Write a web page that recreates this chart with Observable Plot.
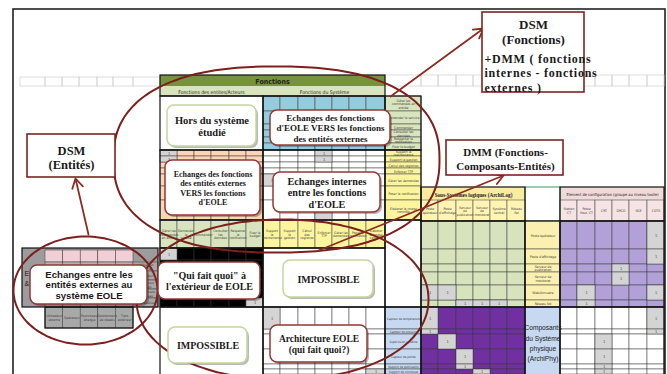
<!DOCTYPE html>
<html><head><meta charset="utf-8">
<script src="https://cdn.jsdelivr.net/npm/d3@7"></script>
<script src="https://cdn.jsdelivr.net/npm/@observablehq/plot@0.6"></script>
<style>html,body{margin:0;padding:0;background:#fff;overflow:hidden}</style>
</head><body><div id="chart"></div>
<script>
// ---------- texts (content) ----------
const funcEnt = ["Gérer les commandes en entrée", "Demander le service", "Commander", "Consulter les données", "Respecter la notification", "Fixer le budget"];
const funcSys = ["Support la maintenance", "Support la gestion", "Calcul des registres", "Enforcer TTP", "Gérer les demandes", "Poser la notification", "Elaborer la image contrôle"];
const archiLogCols = ["Poste opérateur", "Poste d'affichage", "Serveur de publication", "Serveur de monitorat", "Système central", "Réseau Sol"];
const archiLogRows = ["Poste opérateur", "Poste d'affichage", "Serveur de publication", "Serveur de monitorat", "Web/Annuaire", "Réseau Sol"];
const configCols = ["Station CT", "Poste Sout. CT", "CRT", "DRCO", "SGE", "COTS"];
const archiPhyRows = ["Capteur de température", "Capteur de pression", "Supervision système", "Capteur de pointe", "Support de publication", "Support de monitorat"];
const entites = ["Utilisateur externe", "Opérateur", "Fournisseur énergie", "Gestionnaire de réseau", "Tiers extérieur"];
const headerTexts = ["Fonctions", "Fonctions des entites/Acteurs", "Fonctions du Système", "Sous-Systèmes logiques (ArchiLog)", "Element de configuration (groupe au niveau toolie)", "Composants\ndu Système\nphysique\n(ArchiPhy)", "Entités\n& Acteurs"];
const zoneLabels = [
  "Hors du système\nétudié",
  "Echanges des fonctions\nd'EOLE VERS les fonctions\ndes entités externes",
  "Echanges des fonctions\ndes entités externes\nVERS les fonctions\nd'EOLE",
  "Echanges internes\nentre les fonctions\nd'EOLE",
  "\"Qui fait quoi\" à\nl'extérieur de EOLE",
  "IMPOSSIBLE",
  "IMPOSSIBLE",
  "Architecture EOLE\n(qui fait quoi?)",
  "Echanges entre les\nentités externes au\nsystème EOLE"
];
const calloutTitles = ["DSM\n(Entités)", "DSM\n(Fonctions)", "DMM (Fonctions-\nComposants-Entités)"];
const calloutNote = "+DMM ( fonctions\ninternes - fonctions\nexternes )";

// ---------- matrix marks ("1" cells: [row, col]) ----------
const sysEntOnes = [[0,0],[1,0]];
const sysSysOnes = [[0,3],[1,3],[4,0],[6,3]];
const quiOnes = [[0,0],[5,5]];
const phySysOnes = [[0,0],[5,6]];
const logLogOnes = [[4,0],[4,1],[5,2],[5,3],[5,4]];
const logCfgOnes = [[0,5],[1,5],[2,3],[3,3],[4,1],[4,5],[5,1]];
const phyLogOnes = [[0,0],[1,0],[2,1],[3,2],[4,2],[5,3]];
const phyCfgOnes = [[0,5],[1,5],[2,2],[3,2],[4,2],[5,2]];

// ---------- layout (sheet geometry, px) ----------
const colsEnt = [160,177,194,211,229,246,263];
const colsSys = [263,280,298,315,332,349,366,385];
const colLbl1 = [385,421];
const colsLog = [421,438,456,473,490,507,525];
const colLbl2 = [525,560];
const colsCfg = [560,577,595,612,629,647,664];
const rowsEnt = [96,111,124,130,137,143,150];
const rowsSys = [150,156,162,168,174,186,200,220];
const rowColLbl = [220,248];
const rowsQui = [248,260,270,280,290,298,307];
const rowLogHdr = [200,221];
const rowsLog = [221,249,264,272,285,300,307];
const rowsPhy = [307,329,334,349,364,369,374];
const colsEntDsm = [45,62.6,80.2,97.8,115.4,133];
const rowsEntDsm = [262,271,280,289,298,307];
const sheetLeftCols = [20,45,62,79,97,113,133,160];
const sheetRightCols = [385,421,438,456,473,490,507,525,560,577,595,612,629,647,664];

const W = 667, H = 374;
const serif = "Liberation Serif, Times New Roman, serif";
const sans = "Liberation Sans, Arial, sans-serif";
const narrow = "DejaVu Sans Condensed, Liberation Sans, sans-serif";

function grid(xs, ys, fill) {
  const out = [];
  for (let r = 0; r < ys.length - 1; r++)
    for (let c = 0; c < xs.length - 1; c++)
      out.push({x1: xs[c], x2: xs[c+1], y1: ys[r], y2: ys[r+1], fill, r, c});
  return out;
}
function pick(cells, ones) { return cells.filter(d => ones.some(([r, c]) => r === d.r && c === d.c)); }

const plainBlocks = [
  {x1:22,y1:248,x2:158,y2:307,fill:"#9c9c9c"},
  {x1:160,y1:75,x2:385,y2:86,fill:"#76923c"},
  {x1:160,y1:86,x2:263,y2:96,fill:"#d7e4bd"},
  {x1:263,y1:86,x2:385,y2:96,fill:"#d7e4bd"},
  {x1:160,y1:96,x2:263,y2:150,fill:"#ffffff"},
  {x1:263,y1:248,x2:385,y2:307,fill:"#ffffff"},
  {x1:160,y1:307,x2:263,y2:380,fill:"#ffffff"},
  {x1:385,y1:220,x2:421,y2:307,fill:"#ffffff"},
  {x1:421,y1:187,x2:525,y2:200,fill:"#f9eca0"},
  {x1:560,y1:187,x2:664,y2:200,fill:"#f0d9d9"},
  {x1:525,y1:307,x2:560,y2:380,fill:"#c6d9f0"}
];

const cBlue = grid(colsSys, rowsEnt, "#93cddd");
const cOrange = grid(colsEnt, rowsSys, "#fcd5b4");
const cSysSys = grid(colsSys, rowsSys, "#ffffff");
const cLblEnt = grid(colLbl1, rowsEnt, "#d7e4bd");
const cLblSys = grid(colLbl1, rowsSys, "#fcf59d");
const cColEnt = grid(colsEnt, rowColLbl, "#d7e4bd");
const cColSys = grid(colsSys, rowColLbl, "#fcf59d");
const cQui = grid(colsEnt, rowsQui, "#000000");
const cSysPhy = grid(colsSys, rowsPhy, "#ffffff");
const cLblPhy = grid(colLbl1, rowsPhy, "#c6d9f0");
const cLogPhy = grid(colsLog, rowsPhy, "#7030a0");
const cCfgPhy = grid(colsCfg, rowsPhy, "#ffffff");
const cLogHdr = grid(colsLog, rowLogHdr, "#fff4b3");
const cCfgHdr = grid(colsCfg, rowLogHdr, "#f6e4e4");
const cLogLog = grid(colsLog, rowsLog, "#d6e3bc");
const cLblLog = grid(colLbl2, rowsLog, "#fbf0b0");
const cCfgLog = grid(colsCfg, rowsLog, "#b2a1d9");
const cEntHdr = grid(colsEntDsm, [250,262], "#f2cfd6");
const cEntIn = grid(colsEntDsm, rowsEntDsm, "#b4b4b4");
const cEntRow = grid([133,158], rowsEntDsm, "#a8a8a8");
const cEntCol = grid(colsEntDsm, [307,328], "#a8a8a8");

const allCells = [cBlue,cOrange,cSysSys,cLblEnt,cLblSys,cColEnt,cColSys,cQui,cSysPhy,cLblPhy,cLogPhy,cCfgPhy,cLogHdr,cCfgHdr,cLogLog,cLblLog,cCfgLog,cEntHdr,cEntIn,cEntRow,cEntCol].flat();
const ones = [
  pick(cOrange, sysEntOnes), pick(cSysSys, sysSysOnes), pick(cQui, quiOnes), pick(cSysPhy, phySysOnes),
  pick(cLogLog, logLogOnes), pick(cCfgLog, logCfgOnes), pick(cLogPhy, phyLogOnes), pick(cCfgPhy, phyCfgOnes)
].flat();

const outlines = [[160,75,385,96],[160,96,263,150],[263,96,385,150],[160,150,263,220],[263,150,385,220],[160,220,263,248],[263,220,385,248],[160,248,263,307],[263,248,385,307],[160,307,263,380],[263,307,385,380],[385,96,421,150],[385,150,421,220],[385,220,421,307],[385,307,421,380],[421,187,525,221],[560,187,664,221],[421,221,525,307],[525,221,560,307],[560,221,664,307],[421,307,525,380],[525,307,560,380],[560,307,664,380],[22,248,158,307],[45,307,133,328]]
  .map(([x1,y1,x2,y2]) => ({x1,y1,x2,y2}));

const headerPos = [[272,80.5,7,"bold",narrow],[211,91,5,"normal",narrow],[324,91,5,"normal",narrow],[473,193.5,5.2,"bold",serif],[612,193.5,4,"normal",narrow],[542.5,342,6.6,"normal",sans],[24,277,7,"normal",sans]];

const zoneBoxes = [[167,105,256,146],[270,110,390,145],[165,160,260,215],[273,172,380,212],[158,262,260,299],[283,260,373,297],[168,327,247,363],[270,325,367,362],[30,265,147,304]];
const zoneStyle = [
  {stroke:"#c3d69b", size:10.5, lh:1.15, font:serif},
  {stroke:"#953735", size:9, lh:1.17, font:serif},
  {stroke:"#953735", size:8, lh:1.15, font:serif},
  {stroke:"#953735", size:10.2, lh:1.15, font:serif},
  {stroke:"#953735", size:10, lh:1.15, font:serif},
  {stroke:"#c3d69b", size:10, lh:1.1, font:serif},
  {stroke:"#c3d69b", size:10, lh:1.1, font:serif},
  {stroke:"#953735", size:9.5, lh:1.1, font:serif},
  {stroke:"#953735", size:9.6, lh:1.1, font:sans}
];
const calloutBoxes = [[27,134,115,177],[482,12,584,92],[446,140,563,175]];
const calloutTitlePos = [[71,157,12.5,1.15],[533,31,13,1.2],[505,158,11,1.3]];
const ellipses = [{cx:276,cy:159,rx:163,ry:93,n:2.4},{cx:282,cy:299,rx:146,ry:80,n:2.1},{cx:85,cy:290,rx:72,ry:54,n:2}];
const arrowFrom = [[390,96],[318,250],[88,234]];
const arrowTo = [[483,28],[503,175],[75,178]];

// ---------- build marks ----------
const box = d => ({x1:d[0],y1:d[1],x2:d[2],y2:d[3]});
const marks = [];
marks.push(Plot.rect([{x1:13,y1:9,x2:665,y2:390}], {x1:"x1",x2:"x2",y1:"y1",y2:"y2",fill:"white",stroke:"#222",strokeWidth:1.6}));
marks.push(Plot.rect([grid(sheetLeftCols,[77,86],"none"), grid(sheetRightCols,[75,86],"none")].flat(), {x1:"x1",x2:"x2",y1:"y1",y2:"y2",fill:"none",stroke:"#cfcfcf",strokeWidth:0.7}));
marks.push(Plot.rect(plainBlocks, {x1:"x1",x2:"x2",y1:"y1",y2:"y2",fill:"fill"}));
marks.push(Plot.rect([{x1:525,y1:187,x2:560,y2:221}], {x1:"x1",x2:"x2",y1:"y1",y2:"y2",fill:"white",stroke:"#3f9a5a",strokeWidth:1}));
marks.push(Plot.rect(allCells, {x1:"x1",x2:"x2",y1:"y1",y2:"y2",fill:"fill",stroke:"#3a3a3a",strokeWidth:0.5}));
marks.push(Plot.rect(ones, {x1:"x1",x2:"x2",y1:"y1",y2:"y2",fill:"#d4d4d4",stroke:"#3a3a3a",strokeWidth:0.5}));
marks.push(Plot.text(ones, {x:d=>(d.x1+d.x2)/2, y:d=>(d.y1+d.y2)/2, text:()=>"1", fontSize:4, fill:"#555", fontFamily:sans}));
marks.push(Plot.rect(outlines, {x1:"x1",x2:"x2",y1:"y1",y2:"y2",fill:"none",stroke:"#111",strokeWidth:1.2}));

// tiny cell labels
const tiny = (cells, texts, size, lw, extra={}) => Plot.text(cells, {x:d=>(d.x1+d.x2)/2, y:d=>(d.y1+d.y2)/2, text:(d,i)=>texts[i], fontSize:size, lineWidth:lw, fill:"#3a3a3a", fontFamily:narrow, lineHeight:1.05, ...extra});
marks.push(tiny(cLblEnt, funcEnt, 3.4, 10));
marks.push(tiny(cLblSys, funcSys, 3.4, 10));
marks.push(tiny(cColEnt, funcEnt, 3.4, 4.6));
marks.push(tiny(cColSys, funcSys, 3.4, 4.6));
marks.push(tiny(cLogHdr, archiLogCols, 3.4, 4.6));
marks.push(tiny(cCfgHdr, configCols, 3.4, 4.6));
marks.push(tiny(cLblLog, archiLogRows, 3.4, 10));
marks.push(tiny(cLblPhy, archiPhyRows, 3, 13));
marks.push(tiny(cEntRow, entites, 3.2, 7.5));
marks.push(tiny(cEntCol, entites, 3.4, 4.8));
headerTexts.forEach((t, i) => {
  const [x, y, s, w, f] = headerPos[i];
  marks.push(Plot.text([t], {x:()=>x, y:()=>y, text:d=>d, fontSize:s, fontWeight:w, fontFamily:f, fill:"#222", lineHeight:1.55, textAnchor: i === 6 ? "start" : "middle"}));
});

// ellipses
const ellipsePts = ellipses.flatMap((e, id) => d3.range(0, 360, 3).map(a => {
  const t = a * Math.PI / 180, c = Math.cos(t), s = Math.sin(t);
  return {id, x: e.cx + e.rx * Math.sign(c) * Math.abs(c) ** (2 / e.n), y: e.cy + e.ry * Math.sign(s) * Math.abs(s) ** (2 / e.n)};
}));
marks.push(Plot.line(ellipsePts, {x:"x", y:"y", z:"id", curve:"catmull-rom-closed", stroke:"#7d1f1c", strokeWidth:2}));
marks.push(Plot.arrow(arrowFrom.map((f, i) => ({x1:f[0], y1:f[1], x2:arrowTo[i][0], y2:arrowTo[i][1]})), {x1:"x1",y1:"y1",x2:"x2",y2:"y2",stroke:"#8e2b22",strokeWidth:1.8,headLength:9}));

// rounded zone boxes
const zb = zoneBoxes.map(box);
marks.push(Plot.rect(zb, {x1:"x1",x2:"x2",y1:"y1",y2:"y2",fill:"#000",fillOpacity:0.28,rx:7,dx:2,dy:2}));
marks.push(Plot.rect(zb, {x1:"x1",x2:"x2",y1:"y1",y2:"y2",fill:"white",stroke:(d,i)=>zoneStyle[i].stroke,strokeWidth:1.5,rx:7}));
zoneLabels.forEach((t, i) => {
  const b = zb[i], st = zoneStyle[i];
  marks.push(Plot.text([t], {x:()=>(b.x1+b.x2)/2, y:()=>(b.y1+b.y2)/2, text:d=>d, fontSize:st.size, lineHeight:st.lh, fontFamily:st.font, fontWeight:"bold", fill:"#1a1a1a"}));
});

// callouts
const cb = calloutBoxes.map(box);
marks.push(Plot.rect(cb, {x1:"x1",x2:"x2",y1:"y1",y2:"y2",fill:"white",stroke:"#7b2320",strokeWidth:1.6}));
calloutTitles.forEach((t, i) => {
  const [x, y, s, lh] = calloutTitlePos[i];
  marks.push(Plot.text([t], {x:()=>x, y:()=>y, text:d=>d, fontSize:s, lineHeight:lh, fontFamily:serif, fontWeight:"bold", fill:"#1a1a1a"}));
});
marks.push(Plot.text([calloutNote], {x:()=>484, y:()=>72, text:d=>d, fontSize:12, lineHeight:1.2, textAnchor:"start", fontFamily:serif, fontWeight:"bold", fill:"#1a1a1a"}));

const chart = Plot.plot({
  width: W, height: H, margin: 0,
  x: {domain: [0, W], range: [0, W], axis: null},
  y: {domain: [0, H], range: [0, H], axis: null},
  color: {type: "identity"},
  style: {background: "white", overflow: "hidden"},
  marks
});
// widen the spaced-out note text, as in the original callout
const textGroups = chart.querySelectorAll('g[aria-label="text"]');
textGroups[textGroups.length - 1].style.letterSpacing = "0.75px";
document.getElementById("chart").append(chart);
</script>
</body></html>
